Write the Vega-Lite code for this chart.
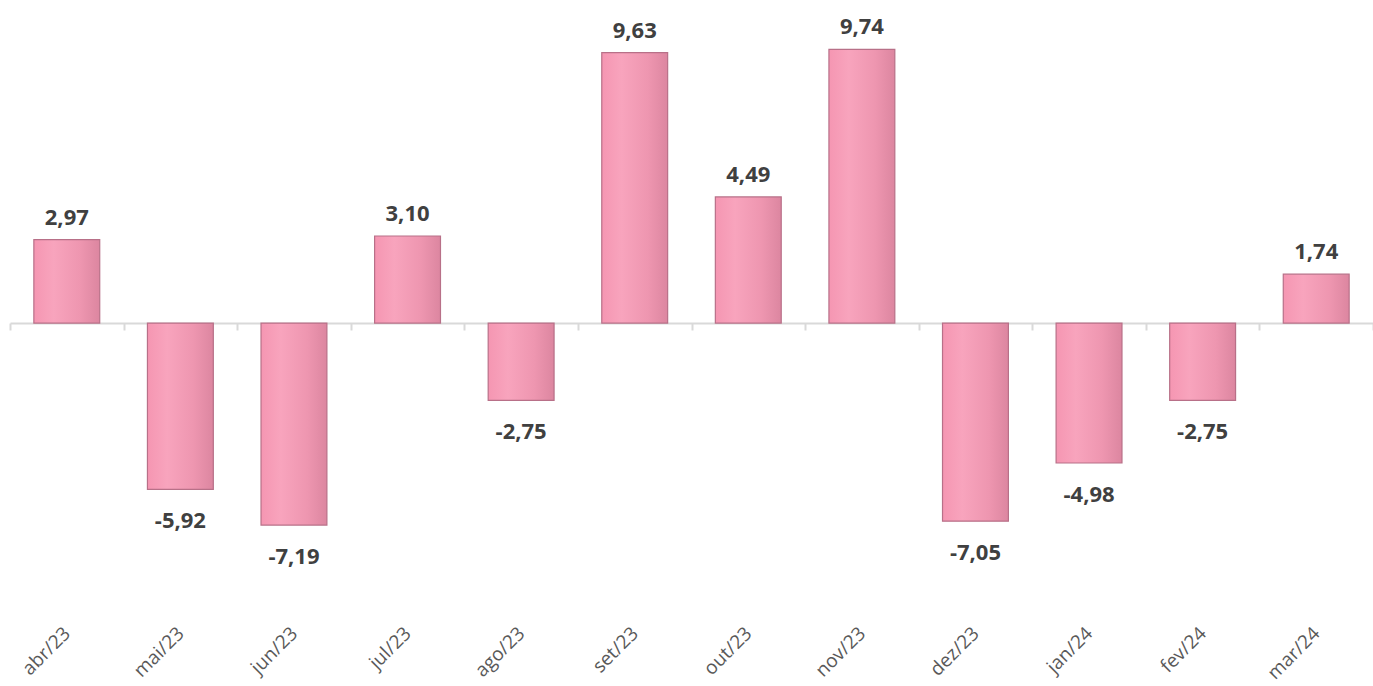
{
  "$schema": "https://vega.github.io/schema/vega-lite/v6.json",
  "autosize": "none",
  "width": 1363,
  "height": 590,
  "padding": {"left": 10, "top": 0, "right": 0, "bottom": 96},
  "background": "white",
  "config": {"view": {"stroke": null}, "font": "Open Sans"},
  "data": {
    "values": [
      {"mes": "abr/23", "valor": 2.97, "rotulo": "2,97"},
      {"mes": "mai/23", "valor": -5.92, "rotulo": "-5,92"},
      {"mes": "jun/23", "valor": -7.19, "rotulo": "-7,19"},
      {"mes": "jul/23", "valor": 3.10, "rotulo": "3,10"},
      {"mes": "ago/23", "valor": -2.75, "rotulo": "-2,75"},
      {"mes": "set/23", "valor": 9.63, "rotulo": "9,63"},
      {"mes": "out/23", "valor": 4.49, "rotulo": "4,49"},
      {"mes": "nov/23", "valor": 9.74, "rotulo": "9,74"},
      {"mes": "dez/23", "valor": -7.05, "rotulo": "-7,05"},
      {"mes": "jan/24", "valor": -4.98, "rotulo": "-4,98"},
      {"mes": "fev/24", "valor": -2.75, "rotulo": "-2,75"},
      {"mes": "mar/24", "valor": 1.74, "rotulo": "1,74"}
    ]
  },
  "encoding": {
    "x": {
      "field": "mes",
      "type": "nominal",
      "sort": null,
      "scale": {"paddingInner": 0, "paddingOuter": 0},
      "axis": {
        "title": null,
        "orient": "bottom",
        "offset": -267,
        "domainColor": "#D9D9D9",
        "domainWidth": 2,
        "tickColor": "#D9D9D9",
        "tickWidth": 2,
        "tickSize": 7,
        "tickBand": "extent",
        "labelAngle": -45,
        "labelAlign": "right",
        "labelBaseline": "middle",
        "labelPadding": 300,
        "labelFont": "Open Sans",
        "labelFontSize": 19,
        "labelColor": "#595959"
      }
    },
    "y": {
      "field": "valor",
      "type": "quantitative",
      "scale": {"domain": [-9.5, 11.5], "nice": false, "zero": false},
      "axis": null
    }
  },
  "layer": [
    {
      "mark": {
        "type": "bar",
        "width": {"band": 0.58},
        "color": {
          "gradient": "linear",
          "x1": 0, "y1": 0, "x2": 1, "y2": 0,
          "stops": [
            {"offset": 0, "color": "#F596B2"},
            {"offset": 0.3, "color": "#F8A4BD"},
            {"offset": 0.7, "color": "#EE96B0"},
            {"offset": 1, "color": "#DC86A0"}
          ]
        },
        "stroke": "#B87088",
        "strokeWidth": 1.2
      }
    },
    {
      "transform": [{"filter": "datum.valor >= 0"}],
      "mark": {"type": "text", "baseline": "alphabetic", "dy": -15, "fontSize": 22, "fontWeight": "bold", "color": "#404040", "font": "Open Sans"},
      "encoding": {"text": {"field": "rotulo"}}
    },
    {
      "transform": [{"filter": "datum.valor < 0"}],
      "mark": {"type": "text", "baseline": "alphabetic", "dy": 39, "fontSize": 22, "fontWeight": "bold", "color": "#404040", "font": "Open Sans"},
      "encoding": {"text": {"field": "rotulo"}}
    }
  ]
}
